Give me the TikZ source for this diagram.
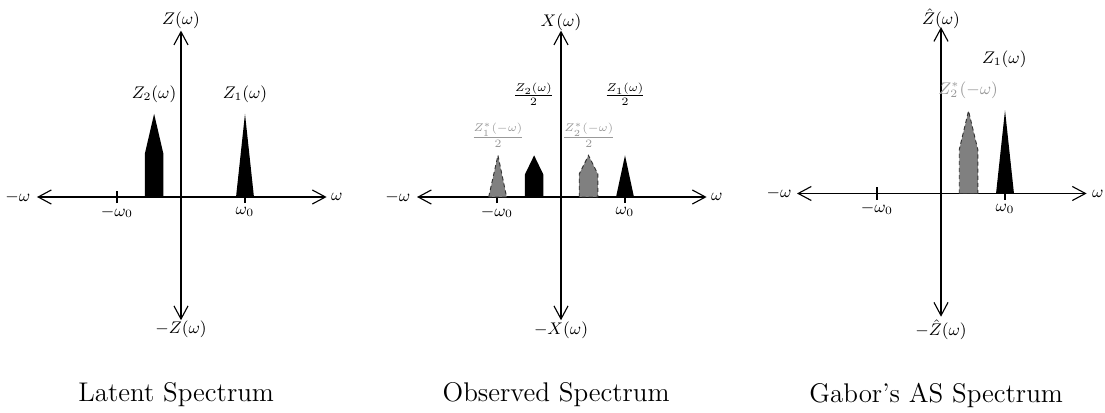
\documentclass[tikz,border=0pt]{standalone}
\usetikzlibrary{arrows.meta}
\begin{document}
\begin{tikzpicture}[x=0.6cm,y=0.6cm,
  axis/.style={semithick,{Straight Barb[length=7pt,width=7.5pt]}-{Straight Barb[length=7pt,width=7.5pt]}},
  tick/.style={semithick},
  lab/.style={font=\small},
  ghostlab/.style={font=\small,text=gray!80},
  peak/.style={fill=black},
  ghost/.style={fill=gray,draw=black!80,line width=0.5pt,dash pattern=on 2.2pt off 1.6pt},
  title/.style={font=\Large}]
\useasboundingbox (-5.656,-6.72) rectangle (28.875,6.156);

\begin{scope}
\draw[axis] (-4.5,0) -- (4.55,0);
\draw[axis] (0,-3.85) -- (0,5.2);
\draw[tick] (-2,-0.19) -- (-2,0.19);
\draw[tick] (2,-0.19) -- (2,0.19);
\node[lab] (zup) at (0,5.52) {$Z(\omega)$};
\node[lab] (zdown) at (0,-4.14) {$-Z(\omega)$};
\node[lab] (wleft) at (-5.1,0) {$-\omega$};
\node[lab] (wright) at (4.87,0) {$\omega$};
\node[lab] (wneg) at (-2,-0.47) {$-\omega_0$};
\node[lab] (wpos) at (2,-0.47) {$\omega_0$};
\fill[peak] (-1.13,0) -- (-1.13,1.35) -- (-0.84,2.6) -- (-0.55,1.35) -- (-0.55,0) -- cycle;
\fill[peak] (1.72,0) -- (2,2.6) -- (2.28,0) -- cycle;
\node[lab] (ztwo) at (-0.84,3.22) {$Z_2(\omega)$};
\node[lab] (zone) at (2,3.22) {$Z_1(\omega)$};
\node[title] (latent) at (-0.15,-6.19) {Latent Spectrum};
\end{scope}

\begin{scope}[shift={(11.875,0)}]
\draw[axis] (-4.5,0) -- (4.55,0);
\draw[axis] (0,-3.85) -- (0,5.2);
\draw[tick] (-2,-0.19) -- (-2,0.19);
\draw[tick] (2,-0.19) -- (2,0.19);
\node[lab] (xup) at (0,5.46) {$X(\omega)$};
\node[lab] (xdown) at (0,-4.18) {$-X(\omega)$};
\node[lab] (wleft) at (-5.1,0) {$-\omega$};
\node[lab] (wright) at (4.87,0) {$\omega$};
\node[lab] (wneg) at (-2,-0.47) {$-\omega_0$};
\node[lab] (wpos) at (2,-0.47) {$\omega_0$};
\filldraw[ghost] (-2.26,0) -- (-1.97,1.3) -- (-1.7,0) -- cycle;
\fill[peak] (-1.13,0) -- (-1.13,0.7) -- (-0.84,1.3) -- (-0.55,0.7) -- (-0.55,0) -- cycle;
\filldraw[ghost] (0.57,0) -- (0.57,0.72) -- (0.86,1.3) -- (1.15,0.72) -- (1.15,0) -- cycle;
\fill[peak] (1.72,0) -- (2,1.3) -- (2.28,0) -- cycle;
\node[lab] (ztwohalf) at (-0.86,3.2) {$\frac{Z_2(\omega)}{2}$};
\node[lab] (zonehalf) at (2,3.2) {$\frac{Z_1(\omega)}{2}$};
\node[ghostlab] (zonestar) at (-1.97,1.94) {$\frac{Z_1^*(-\omega)}{2}$};
\node[ghostlab] (ztwostar) at (0.87,1.94) {$\frac{Z_2^*(-\omega)}{2}$};
\node[title] (observed) at (-0.15,-6.19) {Observed Spectrum};
\end{scope}

\begin{scope}[shift={(23.75,0.11)}]
\draw[axis] (-4.5,0) -- (4.55,0);
\draw[axis] (0,-3.85) -- (0,5.2);
\draw[tick] (-2,-0.19) -- (-2,0.19);
\draw[tick] (2,-0.19) -- (2,0.19);
\node[lab] (hup) at (0,5.46) {$\hat{Z}(\omega)$};
\node[lab] (hdown) at (0,-4.26) {$-\hat{Z}(\omega)$};
\node[lab] (wleft) at (-5.06,0) {$-\omega$};
\node[lab] (wright) at (4.9,0) {$\omega$};
\node[lab] (wneg) at (-2,-0.47) {$-\omega_0$};
\node[lab] (wpos) at (2,-0.47) {$\omega_0$};
\filldraw[ghost] (0.57,0) -- (0.57,1.37) -- (0.86,2.58) -- (1.15,1.37) -- (1.15,0) -- cycle;
\fill[peak] (1.72,0) -- (2,2.6) -- (2.28,0) -- cycle;
\node[lab] (zone) at (1.98,4.2) {$Z_1(\omega)$};
\node[ghostlab] (ztwostar) at (0.85,3.23) {$Z_2^*(-\omega)$};
\end{scope}
\node[title] (gabor) at (23.6,-6.19) {Gabor's AS Spectrum};
\end{tikzpicture}
\end{document}
